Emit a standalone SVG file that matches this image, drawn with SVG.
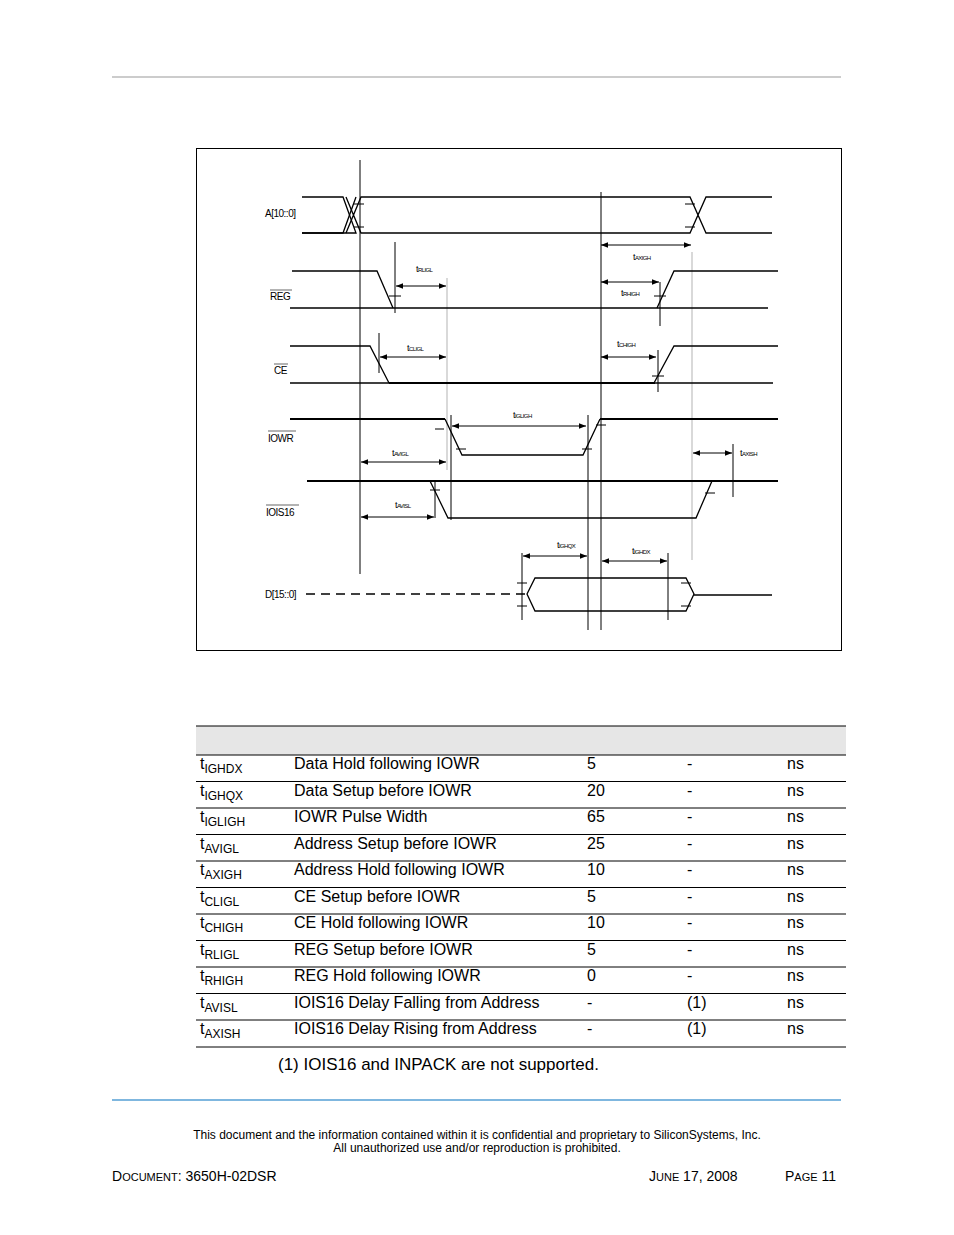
<svg xmlns="http://www.w3.org/2000/svg" width="954" height="1235" viewBox="0 0 954 1235">
<defs>
<marker id="ah" viewBox="0 0 10 10" refX="10" refY="5" markerWidth="7" markerHeight="7" orient="auto-start-reverse"><path d="M0,1 L10,5 L0,9 z" fill="#000"/></marker>
<style>
.s{fill:none;stroke:#000;stroke-width:1.3}
.th{fill:none;stroke:#000;stroke-width:2}
.v{stroke:#000;stroke-width:1}
.g{stroke:#ccc;stroke-width:1.5}
.tk{stroke:#000;stroke-width:1}
.ar{stroke:#000;stroke-width:1;marker-start:url(#ah);marker-end:url(#ah)}
.lb{font-family:"Liberation Sans",Arial,sans-serif;font-size:10px;letter-spacing:-0.5px}
.tl{font-family:"Liberation Sans",Arial,sans-serif;font-size:9px;letter-spacing:-0.6px}
.tl tspan{font-size:6px}
.tb{font-family:"Liberation Sans",Arial,sans-serif;font-size:16px}
.tb tspan.sub{font-size:12px}
.ft{font-family:"Liberation Sans",Arial,sans-serif;font-size:12px}
.rl{stroke:#000;stroke-width:1}
</style>
</defs>
<rect width="954" height="1235" fill="#fff"/>
<line x1="112" y1="77" x2="841" y2="77" stroke="#999" stroke-width="1"/>
<rect x="196.5" y="148.5" width="645" height="502" fill="none" stroke="#000" stroke-width="1"/>

<g id="gridlines">
<line class="g" x1="447" y1="278" x2="447" y2="470"/>
<line class="g" x1="692" y1="252" x2="692" y2="560"/>
<line class="v" x1="360" y1="160" x2="360" y2="574"/>
<line class="v" x1="601" y1="192" x2="601" y2="630"/>
<line class="v" x1="588" y1="415" x2="588" y2="630"/>
</g>

<g id="A">
<text class="lb" x="265" y="217">A[10::0]</text>
<path class="s" d="M302,197 H343 L356,233 H302"/>
<path class="s" d="M302,233 H343 L356,197"/>
<path class="s" d="M346,233 L361,197 H690 L706,233 H772 M346,197 L361,233 H690 L706,197 H772"/>
<line class="tk" x1="354" y1="204" x2="364" y2="204"/><line class="tk" x1="354" y1="227" x2="364" y2="227"/>
<line class="tk" x1="685" y1="204" x2="695" y2="204"/><line class="tk" x1="685" y1="227" x2="695" y2="227"/>
</g>

<g id="REG">
<text class="lb" x="270" y="300">REG</text><line x1="270" y1="290" x2="292" y2="290" stroke="#000" stroke-width="0.6"/>
<path class="s" d="M292,271 H377 L393,308"/>
<path class="s" d="M290,308 H768"/>
<path class="s" d="M657,308 L674,271 H778"/>
<line class="v" x1="395" y1="242" x2="395" y2="313"/>
<line class="tk" x1="389" y1="296" x2="401" y2="296"/>
<line class="v" x1="660" y1="282" x2="660" y2="326"/>
<line class="tk" x1="654" y1="296" x2="666" y2="296"/>
</g>

<g id="CE">
<text class="lb" x="274" y="374">CE</text><line x1="274" y1="364" x2="288" y2="364" stroke="#000" stroke-width="0.6"/>
<path class="s" d="M290,346 H370 L389,383"/>
<path class="s" d="M290,383 H773"/>
<path class="th" d="M389,383 H655"/>
<path class="s" d="M654,383 L674,346 H778"/>
<line class="v" x1="379" y1="333" x2="379" y2="373"/>
<line class="v" x1="658" y1="350" x2="658" y2="392"/>
<line class="tk" x1="652" y1="376" x2="664" y2="376"/>
</g>

<g id="IOWR">
<text class="lb" x="268" y="442">IOWR</text><line x1="268" y1="431" x2="296" y2="431" stroke="#000" stroke-width="0.6"/>
<path class="th" d="M290,419 H445"/>
<path class="s" d="M445,419 L462,455 H583 L600,419"/>
<path class="th" d="M600,419 H778"/>
<line class="v" x1="451" y1="415" x2="451" y2="520"/>
<line class="tk" x1="435" y1="429" x2="444" y2="429"/>
<line class="tk" x1="456" y1="449" x2="466" y2="449"/>
<line class="tk" x1="582" y1="449" x2="592" y2="449"/>
<line class="tk" x1="596" y1="425" x2="606" y2="425"/>
<line class="v" x1="733" y1="444" x2="733" y2="497"/>
</g>

<g id="IOIS16">
<text class="lb" x="266" y="516">IOIS16</text><line x1="266" y1="505" x2="299" y2="505" stroke="#000" stroke-width="0.6"/>
<path class="th" d="M307,481 H778"/>
<path class="s" d="M430,481 L448,518 H696 L712,481"/>
<line class="v" x1="435" y1="480" x2="435" y2="518"/>
<line class="tk" x1="430" y1="490" x2="440" y2="490"/>
<line class="tk" x1="705" y1="493" x2="715" y2="493"/>
</g>

<g id="D">
<text class="lb" x="265" y="598">D[15::0]</text>
<line x1="306" y1="594" x2="527" y2="594" stroke="#000" stroke-width="1.5" stroke-dasharray="9,6"/>
<path class="s" d="M527,594 L535,578 H686 L694,594 L686,611 H535 Z"/>
<path class="s" d="M694,595 H772"/>
<line class="v" x1="522" y1="553" x2="522" y2="620"/>
<line class="v" x1="668" y1="553" x2="668" y2="620"/>
<line class="tk" x1="517" y1="583" x2="527" y2="583"/><line class="tk" x1="517" y1="606" x2="527" y2="606"/>
<line class="tk" x1="681" y1="583" x2="691" y2="583"/><line class="tk" x1="681" y1="606" x2="691" y2="606"/>
</g>

<g id="connectors">
<line class="ar" x1="601" y1="245" x2="691" y2="245"/>
<line class="ar" x1="396" y1="286" x2="446" y2="286"/>
<line class="ar" x1="601" y1="282" x2="659" y2="282"/>
<line class="ar" x1="380" y1="357" x2="446" y2="357"/>
<line class="ar" x1="601" y1="357" x2="656" y2="357"/>
<line class="ar" x1="452" y1="426" x2="586" y2="426"/>
<line class="ar" x1="361" y1="462" x2="446" y2="462"/>
<line class="ar" x1="693" y1="453" x2="732" y2="453"/>
<line class="ar" x1="361" y1="517" x2="434" y2="517"/>
<line class="ar" x1="523" y1="556" x2="587" y2="556"/>
<line class="ar" x1="602" y1="561" x2="667" y2="561"/>
</g>

<g id="tlabels">
<text class="tl" x="633" y="260">t<tspan>AXIGH</tspan></text>
<text class="tl" x="416" y="272">t<tspan>RLIGL</tspan></text>
<text class="tl" x="621" y="296">t<tspan>RHIGH</tspan></text>
<text class="tl" x="407" y="351">t<tspan>CLIGL</tspan></text>
<text class="tl" x="617" y="347">t<tspan>CHIGH</tspan></text>
<text class="tl" x="513" y="418">t<tspan>IGLIGH</tspan></text>
<text class="tl" x="392" y="456">t<tspan>AVIGL</tspan></text>
<text class="tl" x="740" y="456">t<tspan>AXISH</tspan></text>
<text class="tl" x="395" y="508">t<tspan>AVISL</tspan></text>
<text class="tl" x="557" y="548">t<tspan>IGHQX</tspan></text>
<text class="tl" x="632" y="554">t<tspan>IGHDX</tspan></text>
</g>

<g id="table">
<rect x="196" y="726" width="650" height="29" fill="#e6e6e6"/>
<line class="rl" x1="196" y1="726" x2="846" y2="726"/>
<g class="rl">
<line x1="196" y1="755" x2="846" y2="755"/><line x1="196" y1="781.5" x2="846" y2="781.5"/>
<line x1="196" y1="808" x2="846" y2="808"/><line x1="196" y1="834.5" x2="846" y2="834.5"/>
<line x1="196" y1="861" x2="846" y2="861"/><line x1="196" y1="887.5" x2="846" y2="887.5"/>
<line x1="196" y1="914" x2="846" y2="914"/><line x1="196" y1="940.5" x2="846" y2="940.5"/>
<line x1="196" y1="967" x2="846" y2="967"/><line x1="196" y1="993.5" x2="846" y2="993.5"/>
<line x1="196" y1="1020" x2="846" y2="1020"/><line x1="196" y1="1047" x2="846" y2="1047"/>
</g>
<g class="tb">
<text x="200" y="769">t<tspan class="sub" dy="4">IGHDX</tspan></text><text x="294" y="769">Data Hold following IOWR</text><text x="587" y="769">5</text><text x="687" y="769">-</text><text x="787" y="769">ns</text>
<text x="200" y="796">t<tspan class="sub" dy="4">IGHQX</tspan></text><text x="294" y="796">Data Setup before IOWR</text><text x="587" y="796">20</text><text x="687" y="796">-</text><text x="787" y="796">ns</text>
<text x="200" y="822">t<tspan class="sub" dy="4">IGLIGH</tspan></text><text x="294" y="822">IOWR Pulse Width</text><text x="587" y="822">65</text><text x="687" y="822">-</text><text x="787" y="822">ns</text>
<text x="200" y="849">t<tspan class="sub" dy="4">AVIGL</tspan></text><text x="294" y="849">Address Setup before IOWR</text><text x="587" y="849">25</text><text x="687" y="849">-</text><text x="787" y="849">ns</text>
<text x="200" y="875">t<tspan class="sub" dy="4">AXIGH</tspan></text><text x="294" y="875">Address Hold following IOWR</text><text x="587" y="875">10</text><text x="687" y="875">-</text><text x="787" y="875">ns</text>
<text x="200" y="902">t<tspan class="sub" dy="4">CLIGL</tspan></text><text x="294" y="902">CE Setup before IOWR</text><text x="587" y="902">5</text><text x="687" y="902">-</text><text x="787" y="902">ns</text>
<text x="200" y="928">t<tspan class="sub" dy="4">CHIGH</tspan></text><text x="294" y="928">CE Hold following IOWR</text><text x="587" y="928">10</text><text x="687" y="928">-</text><text x="787" y="928">ns</text>
<text x="200" y="955">t<tspan class="sub" dy="4">RLIGL</tspan></text><text x="294" y="955">REG Setup before IOWR</text><text x="587" y="955">5</text><text x="687" y="955">-</text><text x="787" y="955">ns</text>
<text x="200" y="981">t<tspan class="sub" dy="4">RHIGH</tspan></text><text x="294" y="981">REG Hold following IOWR</text><text x="587" y="981">0</text><text x="687" y="981">-</text><text x="787" y="981">ns</text>
<text x="200" y="1008">t<tspan class="sub" dy="4">AVISL</tspan></text><text x="294" y="1008">IOIS16 Delay Falling from Address</text><text x="587" y="1008">-</text><text x="687" y="1008">(1)</text><text x="787" y="1008">ns</text>
<text x="200" y="1034">t<tspan class="sub" dy="4">AXISH</tspan></text><text x="294" y="1034">IOIS16 Delay Rising from Address</text><text x="587" y="1034">-</text><text x="687" y="1034">(1)</text><text x="787" y="1034">ns</text>
</g>
<text x="278" y="1070" style="font-family:'Liberation Sans',Arial,sans-serif;font-size:17px">(1) IOIS16 and INPACK are not supported.</text>
</g>

<line x1="112" y1="1100" x2="841" y2="1100" stroke="#0070c0" stroke-width="1.2"/>
<text class="ft" x="477" y="1139" text-anchor="middle">This document and the information contained within it is confidential and proprietary to SiliconSystems, Inc.</text>
<text class="ft" x="477" y="1152" text-anchor="middle">All unauthorized use and/or reproduction is prohibited.</text>
<text x="112" y="1181" style="font-family:'Liberation Sans',Arial,sans-serif;font-size:14px">D<tspan font-size="11px">OCUMENT</tspan>: 3650H-02DSR</text>
<text x="649" y="1181" style="font-family:'Liberation Sans',Arial,sans-serif;font-size:14px">J<tspan font-size="11px">UNE</tspan> 17, 2008</text>
<text x="785" y="1181" style="font-family:'Liberation Sans',Arial,sans-serif;font-size:14px">P<tspan font-size="11px">AGE</tspan> 11</text>
</svg>
